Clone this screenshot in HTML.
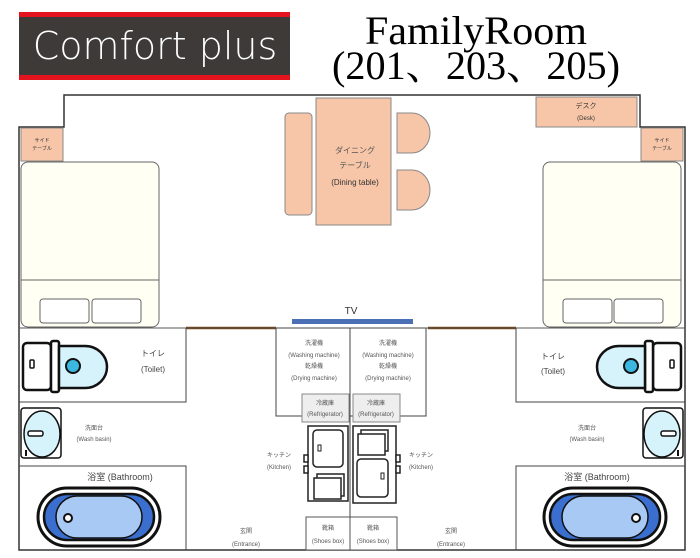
<!DOCTYPE html>
<html><head><meta charset="utf-8"><style>
html,body{margin:0;padding:0;background:#fff;}
svg{display:block;font-family:"Liberation Sans","Noto Sans CJK JP",sans-serif;}
</style></head><body>
<svg width="700" height="558" viewBox="0 0 700 558" xmlns="http://www.w3.org/2000/svg">
<!-- banner -->
<rect x="19" y="12" width="271" height="68" fill="#3d3a38"/>
<rect x="19" y="12" width="271" height="5" fill="#e3141e"/>
<rect x="19" y="75" width="271" height="5" fill="#e3141e"/>
<text x="155" y="59" font-size="38" fill="#fff" text-anchor="middle" font-family="'DejaVu Sans','Liberation Sans',sans-serif" font-weight="300">Comfort plus</text>
<text x="476" y="44" font-size="40" text-anchor="middle" font-family="'Liberation Serif','Noto Serif CJK SC',serif" textLength="222" lengthAdjust="spacingAndGlyphs">FamilyRoom</text>
<text x="476" y="79" font-size="40" text-anchor="middle" font-family="'Liberation Serif','Noto Serif CJK SC',serif" textLength="288" lengthAdjust="spacingAndGlyphs">(201、203、205)</text>

<!-- outer walls -->
<path d="M64,127 V95 H640 V127 H685 V550 H19 V127 Z" fill="none" stroke="#333" stroke-width="1.5"/>

<!-- side tables & desk -->
<g fill="#f7c6a8" stroke="#888" stroke-width="1">
<rect x="21" y="128" width="42" height="33"/>
<rect x="641" y="128" width="42" height="33"/>
<rect x="536" y="97" width="101" height="30"/>
<rect x="285" y="113" width="27" height="102" rx="4"/>
<rect x="316" y="98" width="75" height="127"/>
<path d="M397,113 H412 A18,20 0 0 1 412,153 H397 Z"/>
<path d="M397,170 H412 A18,20 0 0 1 412,210 H397 Z"/>
</g>
<g font-size="5" text-anchor="middle" fill="#333">
<text x="42" y="142">サイド</text><text x="42" y="150">テーブル</text>
<text x="662" y="142">サイド</text><text x="662" y="150">テーブル</text>
</g>
<text x="586" y="108" font-size="7" text-anchor="middle" fill="#333">デスク</text>
<text x="586" y="120" font-size="6" text-anchor="middle" fill="#333">(Desk)</text>
<g font-size="8" text-anchor="middle" fill="#555">
<text x="355" y="153">ダイニング</text><text x="355" y="168">テーブル</text>
<text x="355" y="185" fill="#333">(Dining table)</text>
</g>

<!-- beds -->
<g fill="#fffff4" stroke="#666" stroke-width="1">
<rect x="21" y="162" width="138" height="165" rx="7"/>
<rect x="543" y="162" width="138" height="165" rx="7"/>
</g>
<g stroke="#666" fill="#fff">
<line x1="21" y1="280" x2="159" y2="280"/>
<line x1="543" y1="280" x2="681" y2="280"/>
<rect x="40" y="299" width="49" height="24" rx="3"/>
<rect x="92" y="299" width="49" height="24" rx="3"/>
<rect x="563" y="299" width="49" height="24" rx="3"/>
<rect x="614" y="299" width="49" height="24" rx="3"/>
</g>

<!-- TV -->
<text x="351" y="314" font-size="10" text-anchor="middle" fill="#333">TV</text>
<rect x="292" y="319" width="121" height="5" fill="#4a6fb5"/>

<!-- horizontal wall -->
<line x1="19" y1="328" x2="685" y2="328" stroke="#555" stroke-width="1"/>
<line x1="186" y1="328" x2="276" y2="328" stroke="#6b4a2a" stroke-width="2.5"/>
<line x1="428" y1="328" x2="516" y2="328" stroke="#6b4a2a" stroke-width="2.5"/>

<!-- rooms -->
<g fill="none" stroke="#444" stroke-width="1">
<path d="M186,328 V402 H19"/>
<path d="M19,466 H186 V550"/>
<path d="M516,328 V402 H685"/>
<path d="M685,466 H516 V550"/>
<line x1="350" y1="328" x2="350" y2="550"/>
<rect x="276" y="328" width="150" height="88" fill="#fff"/>
<line x1="350" y1="328" x2="350" y2="416"/>
</g>

<!-- fixtures left -->
<g id="fx">
<rect x="23" y="343" width="28" height="47" rx="4" fill="#fff" stroke="#111" stroke-width="2.5"/>
<rect x="30" y="360" width="4" height="8" rx="1" fill="#fff" stroke="#111" stroke-width="1.5"/>
<rect x="51" y="341" width="8" height="51" rx="2" fill="#fff" stroke="#111" stroke-width="2.5"/>
<path d="M59,346 H85 A22,21 0 0 1 85,388 H59 Z" fill="#d6f2fb" stroke="#111" stroke-width="2.5"/>
<circle cx="73" cy="366" r="7" fill="#3bb8e0" stroke="#111" stroke-width="2"/>
<rect x="21" y="408" width="40" height="50" rx="3" fill="#fff" stroke="#111" stroke-width="1.5"/>
<ellipse cx="42" cy="434" rx="18" ry="23" fill="#d6f2fb" stroke="#111" stroke-width="1.5"/>
<rect x="28" y="431" width="15" height="5" rx="2" fill="#fff" stroke="#111" stroke-width="1.5"/>
<rect x="25" y="450" width="2" height="6" fill="#111"/>
<rect x="38" y="488" width="122" height="58" rx="29" fill="#fff" stroke="#111" stroke-width="3"/>
<rect x="44" y="494" width="110" height="46" rx="23" fill="#3a6fd0" stroke="#111" stroke-width="2.5"/>
<rect x="56" y="496" width="86" height="42" rx="21" fill="#a9c9f5" stroke="#111" stroke-width="1.5"/>
<circle cx="68" cy="518" r="4" fill="#fff" stroke="#111" stroke-width="2"/>
</g>
<use href="#fx" transform="translate(704,0) scale(-1,1)"/>

<g font-size="8" text-anchor="middle" fill="#444">
<text x="153" y="356">トイレ</text><text x="153" y="372">(Toilet)</text>
<text x="553" y="359">トイレ</text><text x="553" y="374">(Toilet)</text>
<text x="120" y="480" font-size="9">浴室 (Bathroom)</text>
<text x="597" y="480" font-size="9">浴室 (Bathroom)</text>
</g>
<g font-size="6" text-anchor="middle" fill="#555">
<text x="94" y="430">洗面台</text><text x="94" y="441">(Wash basin)</text>
<text x="587" y="430">洗面台</text><text x="587" y="441">(Wash basin)</text>
<text x="314" y="345">洗濯機</text><text x="314" y="357">(Washing machine)</text>
<text x="314" y="368">乾燥機</text><text x="314" y="380">(Drying machine)</text>
<text x="388" y="345">洗濯機</text><text x="388" y="357">(Washing machine)</text>
<text x="388" y="368">乾燥機</text><text x="388" y="380">(Drying machine)</text>
<text x="279" y="457">キッチン</text><text x="279" y="469">(Kitchen)</text>
<text x="421" y="457">キッチン</text><text x="421" y="469">(Kitchen)</text>
<text x="246" y="533">玄関</text><text x="246" y="546">(Entrance)</text>
<text x="451" y="533">玄関</text><text x="451" y="546">(Entrance)</text>
</g>

<!-- fridges -->
<rect x="302" y="394" width="47" height="28" fill="#eee" stroke="#888"/>
<rect x="353" y="394" width="47" height="28" fill="#eee" stroke="#888"/>
<g font-size="6" text-anchor="middle" fill="#555">
<text x="325" y="405">冷蔵庫</text><text x="325" y="416">(Refrigerator)</text>
<text x="376" y="405">冷蔵庫</text><text x="376" y="416">(Refrigerator)</text>
</g>

<!-- kitchens -->
<g fill="#fff" stroke="#222" stroke-width="1.5">
<rect x="308" y="426" width="40" height="75"/>
<rect x="353" y="426" width="43" height="77"/>
<rect x="313" y="430" width="30" height="37" rx="4"/>
<rect x="317" y="474" width="27" height="22"/>
<rect x="314" y="478" width="27" height="21"/>
<rect x="361" y="430" width="27" height="21"/>
<rect x="358" y="434" width="27" height="21"/>
<rect x="357" y="459" width="31" height="38" rx="4"/>
<rect x="304" y="455" width="4" height="7"/><rect x="304" y="466" width="4" height="7"/>
<rect x="396" y="455" width="4" height="7"/><rect x="396" y="466" width="4" height="7"/>
<rect x="318" y="445" width="3" height="6" stroke-width="1"/>
<rect x="381" y="473" width="3" height="6" stroke-width="1"/>
</g>

<!-- shoes box -->
<rect x="306" y="517" width="44" height="33" fill="#fff" stroke="#555"/>
<rect x="350" y="517" width="47" height="33" fill="#fff" stroke="#555"/>
<g font-size="6" text-anchor="middle" fill="#555">
<text x="328" y="530">靴箱</text><text x="328" y="543">(Shoes box)</text>
<text x="373" y="530">靴箱</text><text x="373" y="543">(Shoes box)</text>
</g>
</svg>
</body></html>
